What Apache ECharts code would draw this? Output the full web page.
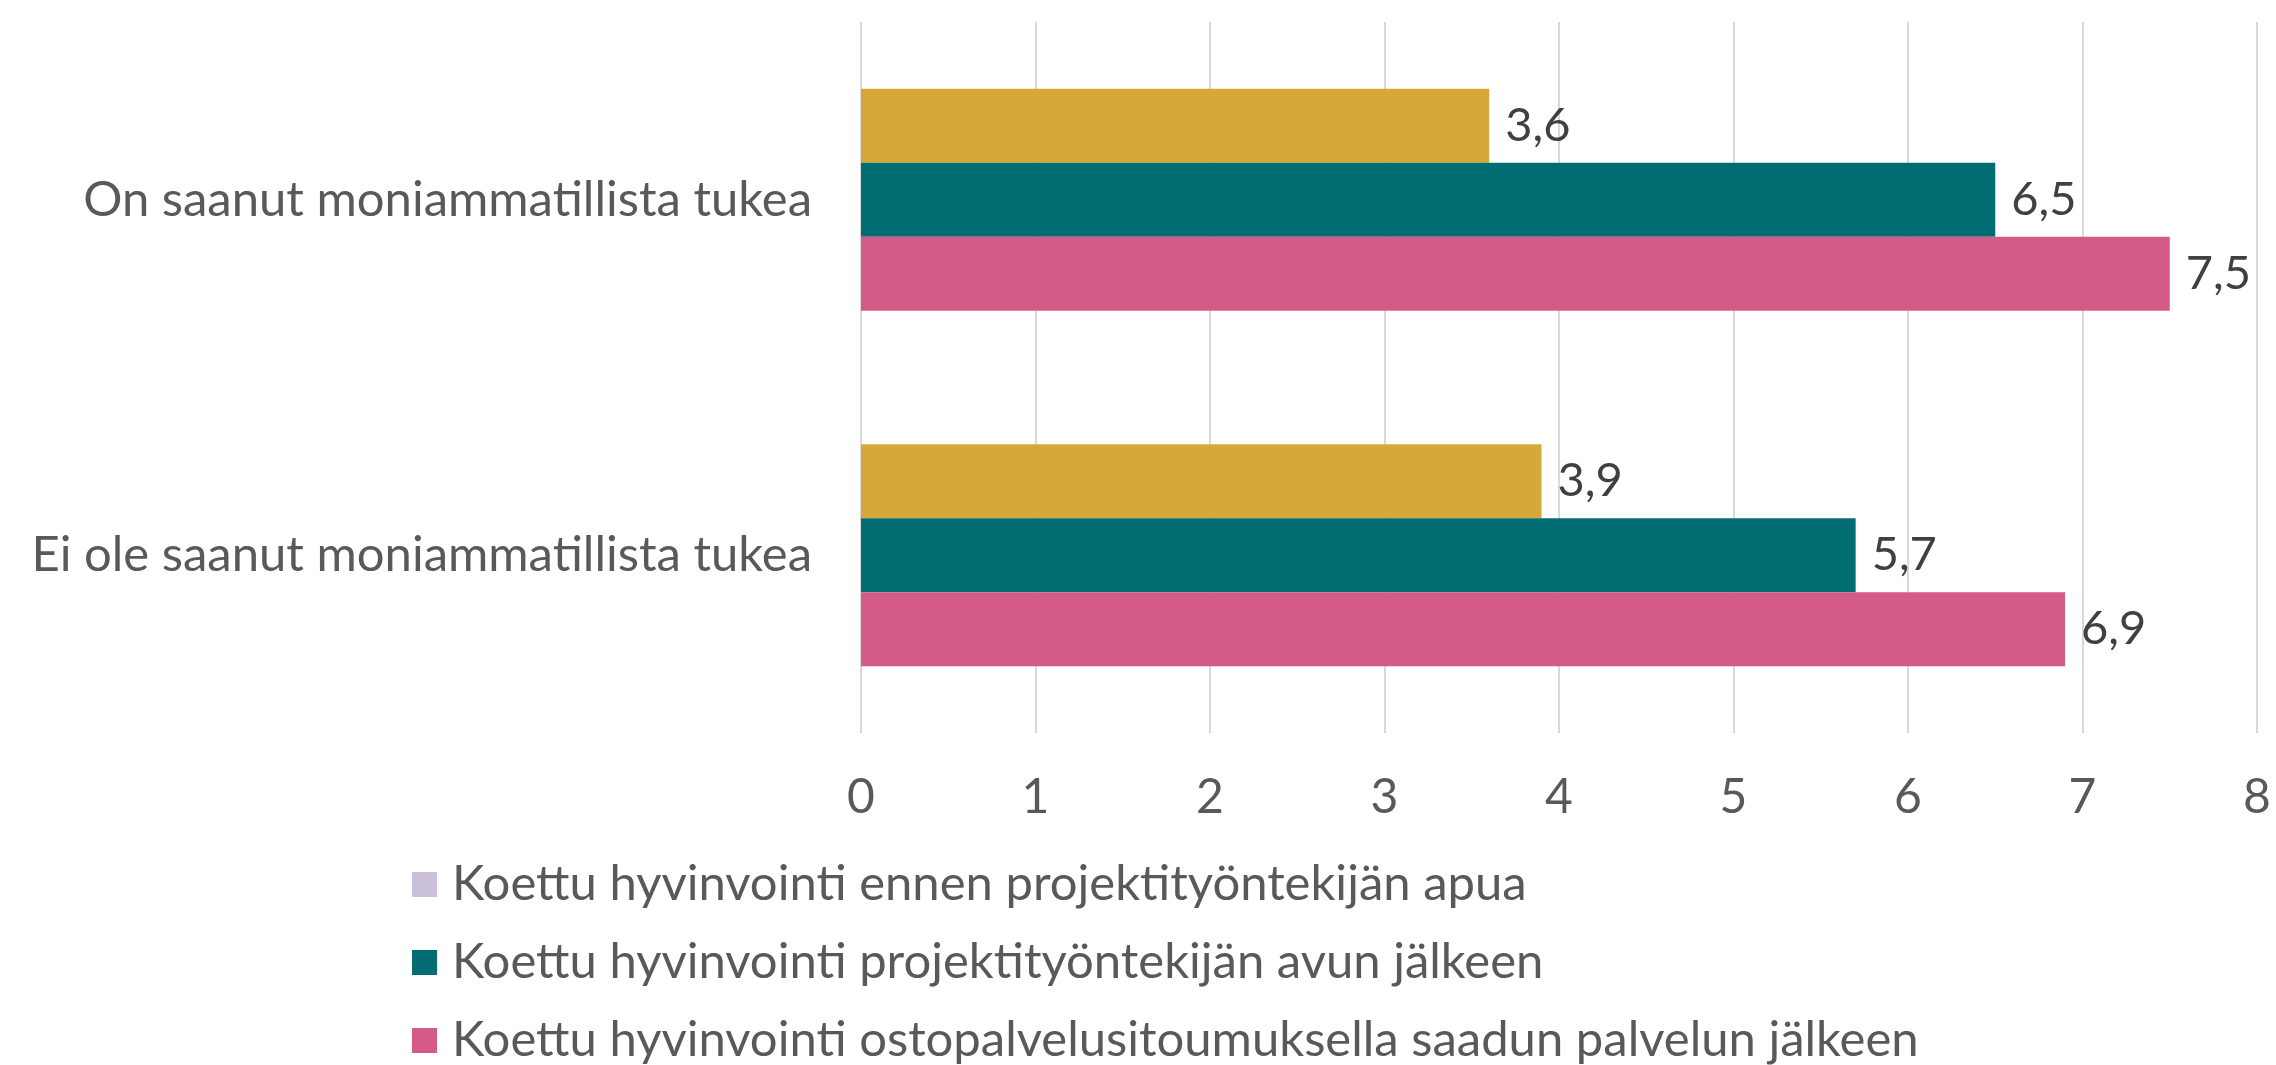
<!DOCTYPE html>
<html>
<head>
<meta charset="utf-8">
<script src="https://cdn.jsdelivr.net/npm/echarts@6/dist/echarts.min.js"></script>
<style>
html,body{margin:0;padding:0;background:#fff;}
#chart{width:2276px;height:1065px;}
</style>
</head>
<body>
<div id="chart"></div>
<script>
const categories = ["On saanut moniammatillista tukea", "Ei ole saanut moniammatillista tukea"];
const seriesNames = [
  "Koettu hyvinvointi ennen projektityöntekijän apua",
  "Koettu hyvinvointi projektityöntekijän avun jälkeen",
  "Koettu hyvinvointi ostopalvelusitoumuksella saadun palvelun jälkeen"
];
const beforeHelp = [3.6, 3.9];
const afterHelp = [6.5, 5.7];
const afterService = [7.5, 6.9];
const xTicks = [0, 1, 2, 3, 4, 5, 6, 7, 8];

const colors = ["#D6A73A", "#026C73", "#D45B87"];
const legendColors = ["#CCC1DA", "#026C73", "#D45B87"];
const FONT = "Lato";

const chart = echarts.init(document.getElementById('chart'));
const valueSets = [beforeHelp, afterHelp, afterService];

chart.setOption({
  animation: false,
  backgroundColor: '#ffffff',
  textStyle: { fontFamily: FONT },
  grid: { left: 861, right: 19, top: 22, bottom: 332, containLabel: false },
  xAxis: {
    type: 'value',
    min: xTicks[0],
    max: xTicks[xTicks.length - 1],
    interval: 1,
    axisLine: { show: false },
    axisTick: { show: false },
    splitLine: { show: true, lineStyle: { color: '#D9D9D9', width: 2 } },
    axisLabel: {
      color: '#595959', fontSize: 48, fontFamily: FONT, margin: 40, lineHeight: 50,
      formatter: v => String(v)
    }
  },
  yAxis: {
    type: 'category',
    inverse: true,
    data: categories,
    axisLine: { show: false },
    axisTick: { show: false },
    splitLine: { show: false },
    axisLabel: { color: '#595959', fontSize: 49, fontFamily: FONT, margin: 49 }
  },
  legend: {
    orient: 'vertical',
    left: 412,
    top: 860,
    padding: 0,
    itemWidth: 25,
    itemHeight: 25,
    itemGap: 29,
    icon: 'rect',
    textStyle: { color: '#595959', fontSize: 49, fontFamily: FONT, lineHeight: 48, padding: [0, 0, 0, 10] },
    data: seriesNames.map((n, i) => ({ name: n, itemStyle: { color: legendColors[i] } }))
  },
  series: valueSets.map((vals, i) => ({
    name: seriesNames[i],
    type: 'bar',
    data: vals,
    barGap: '0%',
    barCategoryGap: '37.5%',
    itemStyle: { color: colors[i] },
    label: {
      show: true,
      position: 'right',
      distance: 16,
      color: '#404040',
      fontSize: 47,
      fontFamily: FONT,
      formatter: p => String(p.value).replace('.', ',')
    }
  }))
});
</script>
</body>
</html>
